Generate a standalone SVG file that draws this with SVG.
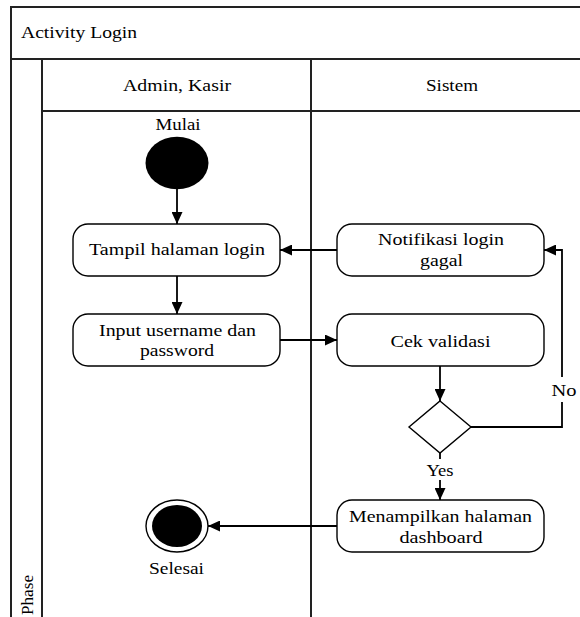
<svg xmlns="http://www.w3.org/2000/svg" width="580" height="617" viewBox="0 0 580 617">
<style>
text{font-family:'Liberation Serif','Times New Roman',Times,Tinos,'Noto Serif','DejaVu Serif',FreeSerif,serif;font-size:17px;fill:#000}
.c{text-anchor:middle}
.frame{fill:none;stroke:#222;stroke-width:2}
.box{fill:#fff;stroke:#000;stroke-width:1.4}
.ln{fill:none;stroke:#000;stroke-width:1.8}
</style>
<defs>
<marker id="ah" markerUnits="userSpaceOnUse" markerWidth="12" markerHeight="11" refX="12" refY="5.5" orient="auto">
<path d="M0,0 L12,5.5 L0,11 z" fill="#000"/>
</marker>
</defs>
<rect width="580" height="617" fill="#fff"/>
<g id="frame">
<rect class="frame" x="11" y="7" width="582" height="620"/>
<line class="frame" x1="11" y1="59" x2="593" y2="59"/>
<line class="frame" x1="42" y1="59" x2="42" y2="617"/>
<line class="frame" x1="42" y1="111" x2="593" y2="111"/>
<line class="frame" x1="311" y1="59" x2="311" y2="617"/>
<text x="21" y="38" textLength="116" lengthAdjust="spacingAndGlyphs">Activity Login</text>
<text class="c" x="177" y="91" textLength="108" lengthAdjust="spacingAndGlyphs">Admin, Kasir</text>
<text class="c" x="452" y="91" textLength="52" lengthAdjust="spacingAndGlyphs">Sistem</text>
<text transform="translate(33,615) rotate(-90)" textLength="40" lengthAdjust="spacingAndGlyphs">Phase</text>
</g>
<g id="connectors">
<path class="ln" d="M177,189 V224" marker-end="url(#ah)"/>
<path class="ln" d="M177,276 V314" marker-end="url(#ah)"/>
<path class="ln" d="M280,340 H337" marker-end="url(#ah)"/>
<path class="ln" d="M337,250 H280" marker-end="url(#ah)"/>
<path class="ln" d="M440,366 V401" marker-end="url(#ah)"/>
<path class="ln" d="M471,427 H562 V402 M562,377 V250 H544" marker-end="url(#ah)"/>
<path class="ln" d="M440,453 V459 M440,480 V500" marker-end="url(#ah)"/>
<path class="ln" d="M337,526 H208" marker-end="url(#ah)"/>
<text class="c" x="564" y="396" textLength="25" lengthAdjust="spacingAndGlyphs">No</text>
<text class="c" x="440" y="476" textLength="27" lengthAdjust="spacingAndGlyphs">Yes</text>
</g>
<g id="start">
<text class="c" x="178" y="130" textLength="45" lengthAdjust="spacingAndGlyphs">Mulai</text>
<ellipse cx="177" cy="163" rx="31.5" ry="26.3" fill="#000"/>
</g>
<g id="tampil">
<rect class="box" x="73" y="224" width="207" height="52" rx="15"/>
<text class="c" x="177" y="255" textLength="176" lengthAdjust="spacingAndGlyphs">Tampil halaman login</text>
</g>
<g id="input">
<rect class="box" x="73" y="314" width="207" height="52" rx="15"/>
<text class="c" x="177.5" y="336" textLength="157" lengthAdjust="spacingAndGlyphs">Input username dan</text>
<text class="c" x="177" y="356" textLength="74" lengthAdjust="spacingAndGlyphs">password</text>
</g>
<g id="notifikasi">
<rect class="box" x="337" y="224" width="207" height="52" rx="15"/>
<text class="c" x="441" y="245" textLength="126" lengthAdjust="spacingAndGlyphs">Notifikasi login</text>
<text class="c" x="441.5" y="266" textLength="43" lengthAdjust="spacingAndGlyphs">gagal</text>
</g>
<g id="cek">
<rect class="box" x="337" y="314" width="207" height="52" rx="15"/>
<text class="c" x="440.5" y="347" textLength="100" lengthAdjust="spacingAndGlyphs">Cek validasi</text>
</g>
<g id="decision">
<polygon class="box" points="440,401 471,427 440,453 409,427"/>
</g>
<g id="menampilkan">
<rect class="box" x="337" y="500" width="207" height="52" rx="15"/>
<text class="c" x="440.5" y="522" textLength="183" lengthAdjust="spacingAndGlyphs">Menampilkan halaman</text>
<text class="c" x="441" y="543" textLength="83" lengthAdjust="spacingAndGlyphs">dashboard</text>
</g>
<g id="end">
<ellipse cx="177" cy="526" rx="31" ry="26" fill="#fff" stroke="#000" stroke-width="1.4"/>
<ellipse cx="177" cy="526" rx="25" ry="21" fill="#000"/>
<text class="c" x="176.5" y="574" textLength="55" lengthAdjust="spacingAndGlyphs">Selesai</text>
</g>
</svg>
